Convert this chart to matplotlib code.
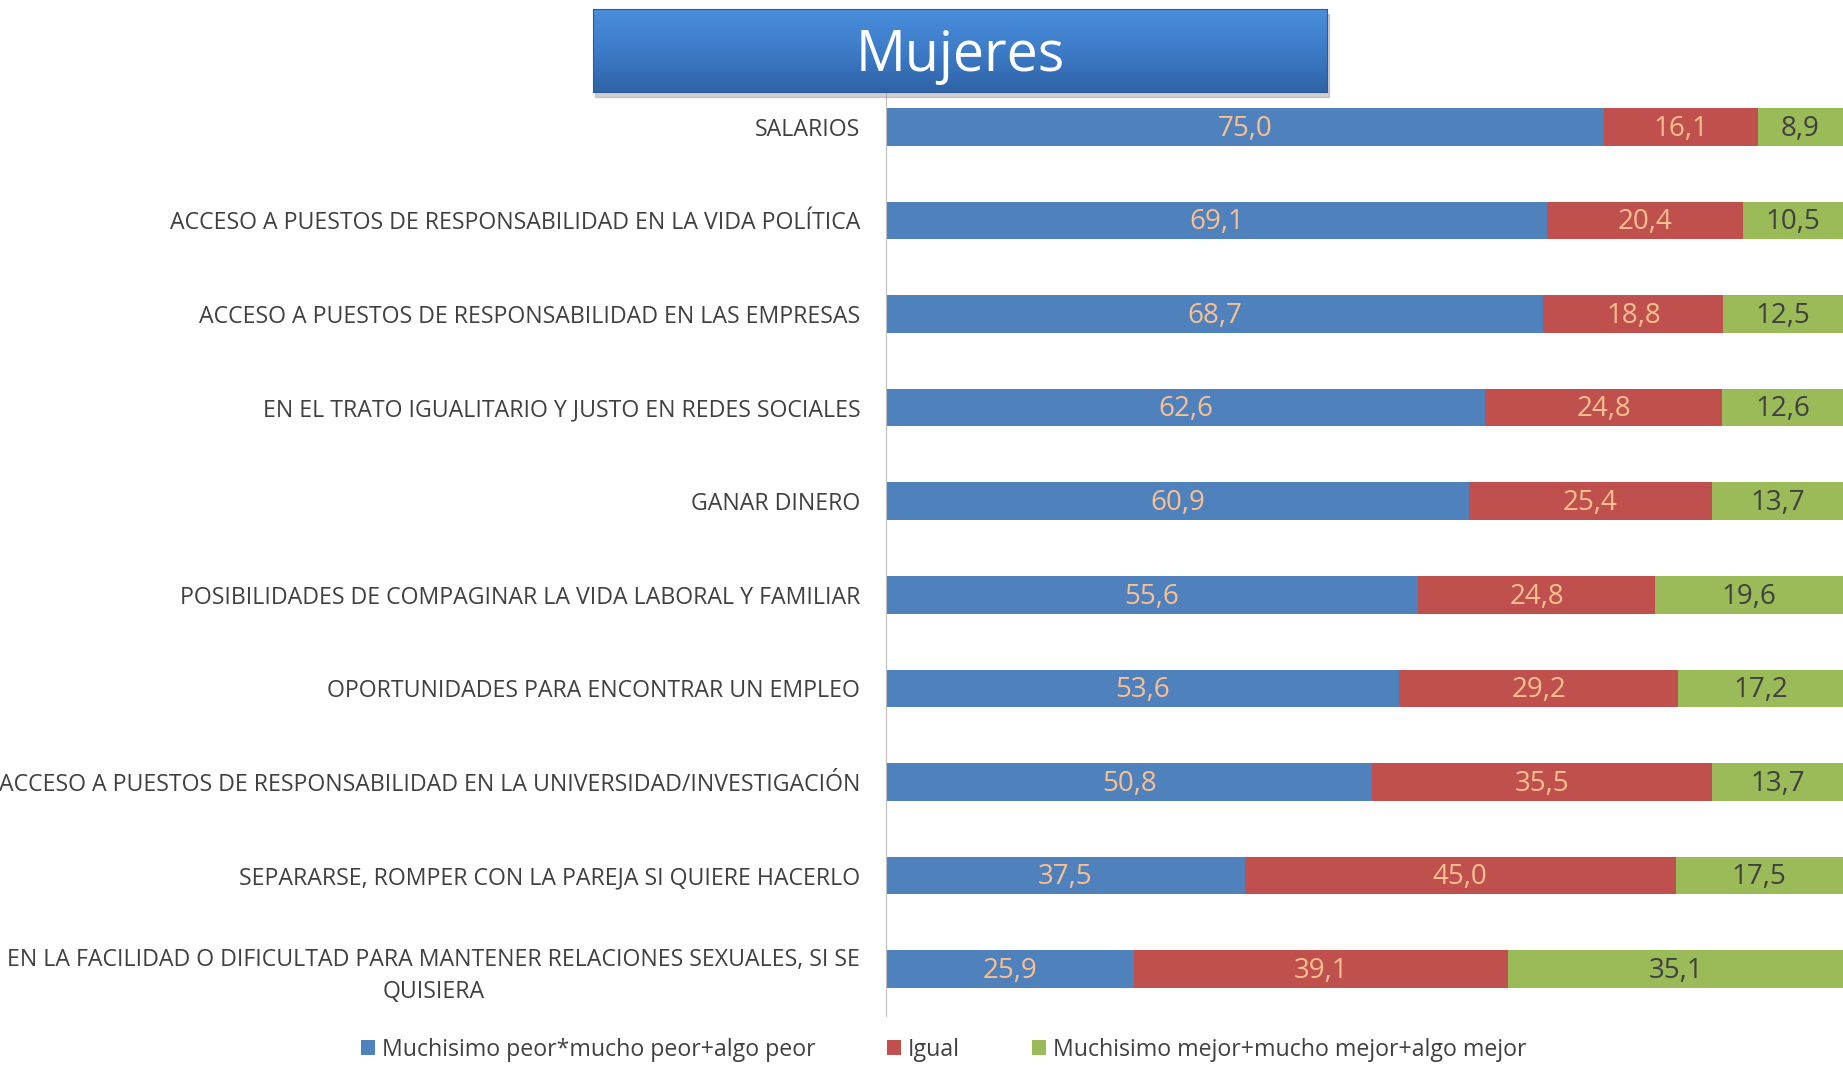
import numpy as np
import matplotlib.pyplot as plt
from matplotlib.patches import Rectangle
from matplotlib.colors import LinearSegmentedColormap

categorias = [
    "SALARIOS",
    "ACCESO A PUESTOS DE RESPONSABILIDAD EN LA VIDA POLÍTICA",
    "ACCESO A PUESTOS DE RESPONSABILIDAD EN LAS EMPRESAS",
    "EN EL TRATO IGUALITARIO Y JUSTO EN REDES SOCIALES",
    "GANAR DINERO",
    "POSIBILIDADES DE COMPAGINAR LA VIDA LABORAL Y FAMILIAR",
    "OPORTUNIDADES PARA ENCONTRAR UN EMPLEO",
    "ACCESO A PUESTOS DE RESPONSABILIDAD EN LA UNIVERSIDAD/INVESTIGACIÓN",
    "SEPARARSE, ROMPER CON LA PAREJA SI QUIERE HACERLO",
    "EN LA FACILIDAD O DIFICULTAD PARA MANTENER RELACIONES SEXUALES, SI SE\nQUISIERA",
]
peor = [75.0, 69.1, 68.7, 62.6, 60.9, 55.6, 53.6, 50.8, 37.5, 25.9]
igual = [16.1, 20.4, 18.8, 24.8, 25.4, 24.8, 29.2, 35.5, 45.0, 39.1]
mejor = [8.9, 10.5, 12.5, 12.6, 13.7, 19.6, 17.2, 13.7, 17.5, 35.1]
series = ["Muchisimo peor*mucho peor+algo peor", "Igual",
          "Muchisimo mejor+mucho mejor+algo mejor"]

colores = ["#4F81BD", "#C0504D", "#9BBB59"]
color_texto = ["#FAC090", "#FAC090", "#404040"]
gris = "#404040"
fuente = "Open Sans"

fig = plt.figure(figsize=(18.43, 10.65), dpi=100)
ax = fig.add_axes([886 / 1843, 1 - 1016 / 1065, 1 - 886 / 1843, (1016 - 80) / 1065])

y = np.arange(len(categorias))
izq = np.zeros(len(categorias))
for vals, nombre, c, ct in zip([peor, igual, mejor], series, colores, color_texto):
    vals = np.array(vals)
    ax.barh(y, vals, left=izq, height=0.4, color=c, label=nombre)
    for yi, l, v in zip(y, izq, vals):
        ax.text(l + v / 2, yi + 0.02, f"{v:.1f}".replace(".", ","), ha="center", va="center",
                color=ct, fontsize=20, family=fuente)
    izq += vals

ax.set_xlim(0, 100)
ax.set_ylim(len(categorias) - 0.5, -0.5)
ax.set_yticks(y)
ax.set_yticklabels(categorias, fontsize=16.7, color=gris, family=fuente,
                   multialignment="center", linespacing=1.45)
ax.tick_params(axis="y", length=0, pad=18.5)
ax.set_xticks([])
for s in ["top", "right", "bottom"]:
    ax.spines[s].set_visible(False)
ax.spines["left"].set_color("#BFBFBF")

leg = fig.legend(loc="center", bbox_to_anchor=(0.512, 1 - 1050 / 1065), ncol=3, frameon=False,
                 handlelength=0.6, handleheight=0.6, handletextpad=0.3, columnspacing=3.1,
                 prop={"family": fuente, "size": 16.7})
for t in leg.get_texts():
    t.set_color(gris)

# caja del titulo con degradado
x0, y0, w, h = 593 / 1843, 1 - 92 / 1065, (1327 - 593) / 1843, 83 / 1065
sombra = Rectangle((x0 + 0.001, y0 - 0.005), w, h, transform=fig.transFigure,
                   color="#a0a0a0", alpha=0.5, zorder=4)
fig.patches.append(sombra)
tax = fig.add_axes([x0, y0, w, h], zorder=5)
grad = np.linspace(0, 1, 100).reshape(-1, 1)
cmap = LinearSegmentedColormap.from_list("t", ["#4A8EDD", "#3D7CC9", "#2F63A6"])
tax.imshow(grad, aspect="auto", cmap=cmap, extent=[0, 1, 0, 1])
tax.set_xticks([])
tax.set_yticks([])
for s in tax.spines.values():
    s.set_color("#2B5A94")
tax.text(0.5, 0.43, "Mujeres", ha="center", va="center", color="white",
         fontsize=40, family=fuente, transform=tax.transAxes)

fig.savefig("out.png", dpi=100)
